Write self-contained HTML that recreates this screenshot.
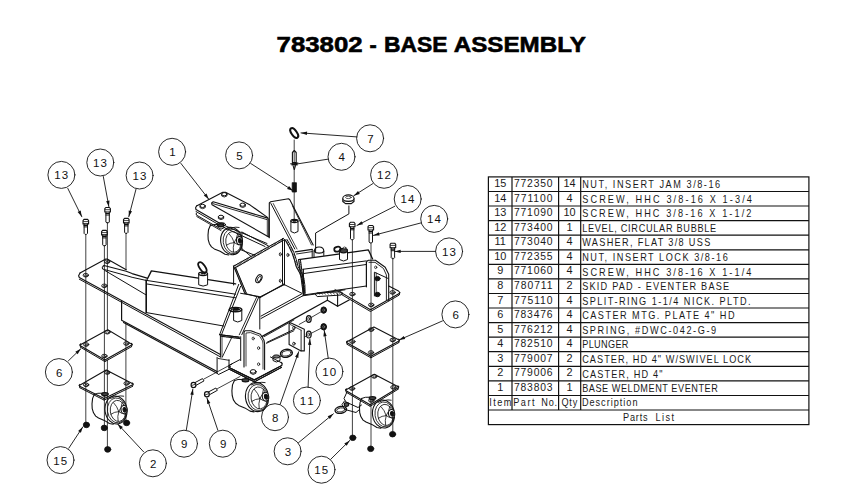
<!DOCTYPE html>
<html><head><meta charset="utf-8"><style>
html,body{margin:0;padding:0;background:#fff;width:857px;height:502px;overflow:hidden}
svg{display:block}
.t text{font-family:"Liberation Sans",sans-serif;font-size:10.9px;fill:#1a1a1a}
.title{font-family:"Liberation Sans",sans-serif;font-weight:bold;font-size:22.4px;fill:#000}
.b text{font-family:"Liberation Sans",sans-serif;font-size:11.5px;fill:#111}
</style></head><body>
<svg width="857" height="502" viewBox="0 0 857 502">
<g class="title" stroke="#000" stroke-width="0.6">
<text x="276.6" y="51.8" textLength="86" lengthAdjust="spacingAndGlyphs">783802</text>
<text x="369.4" y="51.8" textLength="7.2" lengthAdjust="spacingAndGlyphs">-</text>
<text x="384.0" y="51.8" textLength="63.5" lengthAdjust="spacingAndGlyphs">BASE</text>
<text x="453.8" y="51.8" textLength="132" lengthAdjust="spacingAndGlyphs">ASSEMBLY</text>
</g>
<g stroke="#111" stroke-width="1.2" fill="none">
<rect x="488.4" y="176.9" width="320.5" height="247.7"/>
<line x1="488.4" y1="191.5" x2="808.9" y2="191.5"/>
<line x1="488.4" y1="206.0" x2="808.9" y2="206.0"/>
<line x1="488.4" y1="220.6" x2="808.9" y2="220.6"/>
<line x1="488.4" y1="235.2" x2="808.9" y2="235.2"/>
<line x1="488.4" y1="249.8" x2="808.9" y2="249.8"/>
<line x1="488.4" y1="264.3" x2="808.9" y2="264.3"/>
<line x1="488.4" y1="278.9" x2="808.9" y2="278.9"/>
<line x1="488.4" y1="293.5" x2="808.9" y2="293.5"/>
<line x1="488.4" y1="308.0" x2="808.9" y2="308.0"/>
<line x1="488.4" y1="322.6" x2="808.9" y2="322.6"/>
<line x1="488.4" y1="337.2" x2="808.9" y2="337.2"/>
<line x1="488.4" y1="351.7" x2="808.9" y2="351.7"/>
<line x1="488.4" y1="366.3" x2="808.9" y2="366.3"/>
<line x1="488.4" y1="380.9" x2="808.9" y2="380.9"/>
<line x1="488.4" y1="395.5" x2="808.9" y2="395.5"/>
<line x1="488.4" y1="410.0" x2="808.9" y2="410.0"/>
<line x1="512.0" y1="176.9" x2="512.0" y2="410.0"/>
<line x1="558.6" y1="176.9" x2="558.6" y2="410.0"/>
<line x1="580.7" y1="176.9" x2="580.7" y2="410.0"/>
</g>
<g class="t">
<text transform="translate(500.2,186.9) scale(1.0,1)" text-anchor="middle">15</text>
<text transform="translate(514.0,186.9) scale(0.95,1)" textLength="40.6" lengthAdjust="spacing">772350</text>
<text transform="translate(569.5,186.9) scale(1.0,1)" text-anchor="middle">14</text>
<text transform="translate(582.2,188.1) scale(0.84,1)" textLength="164.3" lengthAdjust="spacing">NUT, INSERT JAM 3/8-16</text>
<text transform="translate(500.2,201.5) scale(1.0,1)" text-anchor="middle">14</text>
<text transform="translate(514.0,201.5) scale(0.95,1)" textLength="40.6" lengthAdjust="spacing">771100</text>
<text transform="translate(569.5,201.5) scale(1.0,1)" text-anchor="middle">4</text>
<text transform="translate(582.2,202.7) scale(0.84,1)" textLength="202.0" lengthAdjust="spacing">SCREW, HHC 3/8-16 X 1-3/4</text>
<text transform="translate(500.2,216.0) scale(1.0,1)" text-anchor="middle">13</text>
<text transform="translate(514.0,216.0) scale(0.95,1)" textLength="40.6" lengthAdjust="spacing">771090</text>
<text transform="translate(569.5,216.0) scale(1.0,1)" text-anchor="middle">10</text>
<text transform="translate(582.2,217.2) scale(0.84,1)" textLength="201.4" lengthAdjust="spacing">SCREW, HHC 3/8-16 X 1-1/2</text>
<text transform="translate(500.2,230.6) scale(1.0,1)" text-anchor="middle">12</text>
<text transform="translate(514.0,230.6) scale(0.95,1)" textLength="40.6" lengthAdjust="spacing">773400</text>
<text transform="translate(569.5,230.6) scale(1.0,1)" text-anchor="middle">1</text>
<text transform="translate(582.2,231.8) scale(0.84,1)" textLength="159.5" lengthAdjust="spacing">LEVEL, CIRCULAR BUBBLE</text>
<text transform="translate(500.2,245.2) scale(1.0,1)" text-anchor="middle">11</text>
<text transform="translate(514.0,245.2) scale(0.95,1)" textLength="40.6" lengthAdjust="spacing">773040</text>
<text transform="translate(569.5,245.2) scale(1.0,1)" text-anchor="middle">4</text>
<text transform="translate(582.2,246.4) scale(0.84,1)" textLength="152.5" lengthAdjust="spacing">WASHER, FLAT 3/8 USS</text>
<text transform="translate(500.2,259.8) scale(1.0,1)" text-anchor="middle">10</text>
<text transform="translate(514.0,259.8) scale(0.95,1)" textLength="40.6" lengthAdjust="spacing">772355</text>
<text transform="translate(569.5,259.8) scale(1.0,1)" text-anchor="middle">4</text>
<text transform="translate(582.2,260.9) scale(0.84,1)" textLength="173.3" lengthAdjust="spacing">NUT, INSERT LOCK 3/8-16</text>
<text transform="translate(500.2,274.3) scale(1.0,1)" text-anchor="middle">9</text>
<text transform="translate(514.0,274.3) scale(0.95,1)" textLength="40.6" lengthAdjust="spacing">771060</text>
<text transform="translate(569.5,274.3) scale(1.0,1)" text-anchor="middle">4</text>
<text transform="translate(582.2,275.5) scale(0.84,1)" textLength="201.4" lengthAdjust="spacing">SCREW, HHC 3/8-16 X 1-1/4</text>
<text transform="translate(500.2,288.9) scale(1.0,1)" text-anchor="middle">8</text>
<text transform="translate(514.0,288.9) scale(0.95,1)" textLength="40.6" lengthAdjust="spacing">780711</text>
<text transform="translate(569.5,288.9) scale(1.0,1)" text-anchor="middle">2</text>
<text transform="translate(582.2,290.1) scale(0.84,1)" textLength="174.9" lengthAdjust="spacing">SKID PAD - EVENTER BASE</text>
<text transform="translate(500.2,303.5) scale(1.0,1)" text-anchor="middle">7</text>
<text transform="translate(514.0,303.5) scale(0.95,1)" textLength="40.6" lengthAdjust="spacing">775110</text>
<text transform="translate(569.5,303.5) scale(1.0,1)" text-anchor="middle">4</text>
<text transform="translate(582.2,304.7) scale(0.84,1)" textLength="200.5" lengthAdjust="spacing">SPLIT-RING 1-1/4 NICK. PLTD.</text>
<text transform="translate(500.2,318.0) scale(1.0,1)" text-anchor="middle">6</text>
<text transform="translate(514.0,318.0) scale(0.95,1)" textLength="40.6" lengthAdjust="spacing">783476</text>
<text transform="translate(569.5,318.0) scale(1.0,1)" text-anchor="middle">4</text>
<text transform="translate(582.2,319.2) scale(0.84,1)" textLength="181.3" lengthAdjust="spacing">CASTER MTG. PLATE 4&quot; HD</text>
<text transform="translate(500.2,332.6) scale(1.0,1)" text-anchor="middle">5</text>
<text transform="translate(514.0,332.6) scale(0.95,1)" textLength="40.6" lengthAdjust="spacing">776212</text>
<text transform="translate(569.5,332.6) scale(1.0,1)" text-anchor="middle">4</text>
<text transform="translate(582.2,333.8) scale(0.84,1)" textLength="159.5" lengthAdjust="spacing">SPRING, #DWC-042-G-9</text>
<text transform="translate(500.2,347.2) scale(1.0,1)" text-anchor="middle">4</text>
<text transform="translate(514.0,347.2) scale(0.95,1)" textLength="40.6" lengthAdjust="spacing">782510</text>
<text transform="translate(569.5,347.2) scale(1.0,1)" text-anchor="middle">4</text>
<text transform="translate(582.2,348.4) scale(0.84,1)" textLength="55.1" lengthAdjust="spacing">PLUNGER</text>
<text transform="translate(500.2,361.7) scale(1.0,1)" text-anchor="middle">3</text>
<text transform="translate(514.0,361.7) scale(0.95,1)" textLength="40.6" lengthAdjust="spacing">779007</text>
<text transform="translate(569.5,361.7) scale(1.0,1)" text-anchor="middle">2</text>
<text transform="translate(582.2,362.9) scale(0.84,1)" textLength="201.1" lengthAdjust="spacing">CASTER, HD 4&quot; W/SWIVEL LOCK</text>
<text transform="translate(500.2,376.3) scale(1.0,1)" text-anchor="middle">2</text>
<text transform="translate(514.0,376.3) scale(0.95,1)" textLength="40.6" lengthAdjust="spacing">779006</text>
<text transform="translate(569.5,376.3) scale(1.0,1)" text-anchor="middle">2</text>
<text transform="translate(582.2,377.5) scale(0.84,1)" textLength="95.6" lengthAdjust="spacing">CASTER, HD 4&quot;</text>
<text transform="translate(500.2,390.9) scale(1.0,1)" text-anchor="middle">1</text>
<text transform="translate(514.0,390.9) scale(0.95,1)" textLength="40.6" lengthAdjust="spacing">783803</text>
<text transform="translate(569.5,390.9) scale(1.0,1)" text-anchor="middle">1</text>
<text transform="translate(582.2,392.1) scale(0.84,1)" textLength="161.4" lengthAdjust="spacing">BASE WELDMENT EVENTER</text>
<text transform="translate(489.3,405.5) scale(0.84,1)" textLength="26.4" lengthAdjust="spacing">Item</text>
<text transform="translate(513.3,405.5) scale(0.84,1)" textLength="25.2" lengthAdjust="spacing">Part</text>
<text transform="translate(541.2,405.5) scale(0.84,1)" textLength="19.0" lengthAdjust="spacing">No.</text>
<text transform="translate(561.4,405.5) scale(0.84,1)" textLength="18.9" lengthAdjust="spacing">Qty</text>
<text transform="translate(581.9,405.5) scale(0.84,1)" textLength="66.2" lengthAdjust="spacing">Description</text>
<text transform="translate(623.0,421.4) scale(0.84,1)" textLength="29.3" lengthAdjust="spacing">Parts</text>
<text transform="translate(655.5,421.4) scale(0.84,1)" textLength="22.0" lengthAdjust="spacing">List</text>
</g>
<g stroke-linecap="round" stroke-linejoin="round">
<circle cx="61.4" cy="174.9" r="13.5" stroke="#111" stroke-width="0.9" fill="none"/>
<line x1="67.8" y1="188.4" x2="81.8" y2="216.7" stroke="#111" stroke-width="0.9"/>
<path d="M81.8,216.7 L77.6,212.1 L80.7,210.6 Z" fill="#111"/>
<circle cx="100.3" cy="162.5" r="13.5" stroke="#111" stroke-width="0.9" fill="none"/>
<line x1="103.3" y1="176.5" x2="108.9" y2="206.8" stroke="#111" stroke-width="0.9"/>
<path d="M108.9,206.8 L106.1,201.2 L109.5,200.6 Z" fill="#111"/>
<circle cx="139.6" cy="175.5" r="13.5" stroke="#111" stroke-width="0.9" fill="none"/>
<line x1="136.0" y1="189.2" x2="128.8" y2="216.7" stroke="#111" stroke-width="0.9"/>
<path d="M128.8,216.7 L128.7,210.5 L132.0,211.3 Z" fill="#111"/>
<circle cx="172.1" cy="151.8" r="13.5" stroke="#111" stroke-width="0.9" fill="none"/>
<line x1="180.9" y1="163.4" x2="208.8" y2="199.3" stroke="#111" stroke-width="0.9"/>
<path d="M208.8,199.3 L203.8,195.6 L206.5,193.5 Z" fill="#111"/>
<circle cx="239.1" cy="155.4" r="13.5" stroke="#111" stroke-width="0.9" fill="none"/>
<line x1="250.6" y1="163.4" x2="293.1" y2="190.7" stroke="#111" stroke-width="0.9"/>
<path d="M293.1,190.7 L287.1,188.9 L289.0,186.0 Z" fill="#111"/>
<circle cx="370.1" cy="138.3" r="13.5" stroke="#111" stroke-width="0.9" fill="none"/>
<line x1="356.8" y1="136.9" x2="301.0" y2="132.9" stroke="#111" stroke-width="0.9"/>
<path d="M301.0,132.9 L307.1,131.6 L306.9,135.0 Z" fill="#111"/>
<circle cx="341.5" cy="156.8" r="13.5" stroke="#111" stroke-width="0.9" fill="none"/>
<line x1="327.9" y1="159.2" x2="291.5" y2="164.8" stroke="#111" stroke-width="0.9"/>
<path d="M291.5,164.8 L297.2,162.2 L297.7,165.6 Z" fill="#111"/>
<circle cx="384.1" cy="174.8" r="13.5" stroke="#111" stroke-width="0.9" fill="none"/>
<line x1="372.7" y1="183.7" x2="353.8" y2="195.7" stroke="#111" stroke-width="0.9"/>
<path d="M353.8,195.7 L358.0,191.0 L359.8,193.9 Z" fill="#111"/>
<circle cx="407.7" cy="199.0" r="13.5" stroke="#111" stroke-width="0.9" fill="none"/>
<line x1="394.7" y1="206.3" x2="356.9" y2="225.5" stroke="#111" stroke-width="0.9"/>
<path d="M356.9,225.5 L361.5,221.3 L363.0,224.3 Z" fill="#111"/>
<circle cx="434.2" cy="218.9" r="13.5" stroke="#111" stroke-width="0.9" fill="none"/>
<line x1="421.0" y1="222.9" x2="373.4" y2="235.4" stroke="#111" stroke-width="0.9"/>
<path d="M373.4,235.4 L378.8,232.2 L379.6,235.5 Z" fill="#111"/>
<circle cx="449.1" cy="251.4" r="13.5" stroke="#111" stroke-width="0.9" fill="none"/>
<line x1="435.6" y1="251.4" x2="394.7" y2="251.4" stroke="#111" stroke-width="0.9"/>
<path d="M394.7,251.4 L400.7,249.7 L400.7,253.1 Z" fill="#111"/>
<circle cx="455.4" cy="314.4" r="13.5" stroke="#111" stroke-width="0.9" fill="none"/>
<line x1="442.5" y1="320.9" x2="399.0" y2="340.0" stroke="#111" stroke-width="0.9"/>
<path d="M399.0,340.0 L403.8,336.0 L405.2,339.1 Z" fill="#111"/>
<circle cx="58.9" cy="372.1" r="13.5" stroke="#111" stroke-width="0.9" fill="none"/>
<line x1="68.4" y1="360.8" x2="80.8" y2="348.8" stroke="#111" stroke-width="0.9"/>
<path d="M80.8,348.8 L77.7,354.2 L75.3,351.8 Z" fill="#111"/>
<circle cx="60.5" cy="460.1" r="13.5" stroke="#111" stroke-width="0.9" fill="none"/>
<line x1="68.8" y1="448.2" x2="82.8" y2="426.9" stroke="#111" stroke-width="0.9"/>
<path d="M82.8,426.9 L80.9,432.8 L78.1,431.0 Z" fill="#111"/>
<circle cx="152.9" cy="463.3" r="13.5" stroke="#111" stroke-width="0.9" fill="none"/>
<line x1="143.6" y1="451.8" x2="117.6" y2="423.9" stroke="#111" stroke-width="0.9"/>
<path d="M117.6,423.9 L122.9,427.1 L120.4,429.4 Z" fill="#111"/>
<circle cx="184.0" cy="443.7" r="13.5" stroke="#111" stroke-width="0.9" fill="none"/>
<line x1="186.3" y1="430.1" x2="192.9" y2="388.9" stroke="#111" stroke-width="0.9"/>
<path d="M192.9,388.9 L193.6,395.1 L190.3,394.6 Z" fill="#111"/>
<circle cx="222.8" cy="443.7" r="13.5" stroke="#111" stroke-width="0.9" fill="none"/>
<line x1="217.8" y1="430.1" x2="206.9" y2="397.9" stroke="#111" stroke-width="0.9"/>
<path d="M206.9,397.9 L210.4,403.0 L207.2,404.1 Z" fill="#111"/>
<circle cx="275.0" cy="417.2" r="13.5" stroke="#111" stroke-width="0.9" fill="none"/>
<line x1="280.2" y1="404.2" x2="298.7" y2="351.7" stroke="#111" stroke-width="0.9"/>
<path d="M298.7,351.7 L298.3,357.9 L295.1,356.8 Z" fill="#111"/>
<circle cx="306.9" cy="400.5" r="13.5" stroke="#111" stroke-width="0.9" fill="none"/>
<line x1="308.1" y1="387.3" x2="309.9" y2="338.9" stroke="#111" stroke-width="0.9"/>
<path d="M309.9,338.9 L311.4,345.0 L308.0,344.8 Z" fill="#111"/>
<circle cx="329.4" cy="371.6" r="13.5" stroke="#111" stroke-width="0.9" fill="none"/>
<line x1="328.2" y1="358.1" x2="324.2" y2="330.2" stroke="#111" stroke-width="0.9"/>
<path d="M324.2,330.2 L326.7,335.9 L323.4,336.4 Z" fill="#111"/>
<circle cx="287.6" cy="451.3" r="13.5" stroke="#111" stroke-width="0.9" fill="none"/>
<line x1="298.5" y1="442.7" x2="333.4" y2="413.8" stroke="#111" stroke-width="0.9"/>
<path d="M333.4,413.8 L329.9,418.9 L327.7,416.3 Z" fill="#111"/>
<circle cx="321.5" cy="469.7" r="13.5" stroke="#111" stroke-width="0.9" fill="none"/>
<line x1="330.9" y1="459.1" x2="349.8" y2="440.4" stroke="#111" stroke-width="0.9"/>
<path d="M349.8,440.4 L346.7,445.8 L344.3,443.4 Z" fill="#111"/>
<path d="M83.0,223.9 L83.0,220.6 L84.0,219.4 L87.6,219.4 L88.6,220.6 L88.6,223.9 L83.0,223.9" stroke="#111" stroke-width="1.1" fill="none"/>
<line x1="83.5" y1="221.6" x2="88.1" y2="221.6" stroke="#111" stroke-width="0.8"/>
<line x1="84.1" y1="225.4" x2="87.5" y2="225.4" stroke="#111" stroke-width="1.2"/>
<line x1="84.1" y1="226.9" x2="87.5" y2="226.9" stroke="#111" stroke-width="1.0"/>
<path d="M84.1,223.9 L84.1,233.4 L85.1,234.4 L86.5,234.4 L87.5,233.4 L87.5,223.9" stroke="#111" stroke-width="1.0" fill="none"/>
<path d="M104.8,212.0 L104.8,208.7 L105.8,207.5 L109.4,207.5 L110.4,208.7 L110.4,212.0 L104.8,212.0" stroke="#111" stroke-width="1.1" fill="none"/>
<line x1="105.3" y1="209.7" x2="109.9" y2="209.7" stroke="#111" stroke-width="0.8"/>
<line x1="105.9" y1="213.5" x2="109.3" y2="213.5" stroke="#111" stroke-width="1.2"/>
<line x1="105.9" y1="215.0" x2="109.3" y2="215.0" stroke="#111" stroke-width="1.0"/>
<path d="M105.9,212.0 L105.9,222.0 L106.9,223.0 L108.3,223.0 L109.3,222.0 L109.3,212.0" stroke="#111" stroke-width="1.0" fill="none"/>
<path d="M101.6,234.9 L101.6,231.6 L102.6,230.4 L106.2,230.4 L107.2,231.6 L107.2,234.9 L101.6,234.9" stroke="#111" stroke-width="1.1" fill="none"/>
<line x1="102.1" y1="232.6" x2="106.7" y2="232.6" stroke="#111" stroke-width="0.8"/>
<line x1="102.7" y1="236.4" x2="106.1" y2="236.4" stroke="#111" stroke-width="1.2"/>
<line x1="102.7" y1="237.9" x2="106.1" y2="237.9" stroke="#111" stroke-width="1.0"/>
<path d="M102.7,234.9 L102.7,244.9 L103.7,245.9 L105.1,245.9 L106.1,244.9 L106.1,234.9" stroke="#111" stroke-width="1.0" fill="none"/>
<path d="M123.5,222.9 L123.5,219.6 L124.5,218.4 L128.1,218.4 L129.1,219.6 L129.1,222.9 L123.5,222.9" stroke="#111" stroke-width="1.1" fill="none"/>
<line x1="124.0" y1="220.6" x2="128.6" y2="220.6" stroke="#111" stroke-width="0.8"/>
<line x1="124.6" y1="224.4" x2="128.0" y2="224.4" stroke="#111" stroke-width="1.2"/>
<line x1="124.6" y1="225.9" x2="128.0" y2="225.9" stroke="#111" stroke-width="1.0"/>
<path d="M124.6,222.9 L124.6,232.4 L125.6,233.4 L127.0,233.4 L128.0,232.4 L128.0,222.9" stroke="#111" stroke-width="1.0" fill="none"/>
<line x1="85.8" y1="235.0" x2="85.8" y2="424.0" stroke="#111" stroke-width="0.8"/>
<line x1="107.4" y1="222.5" x2="107.4" y2="330.0" stroke="#111" stroke-width="0.8"/>
<line x1="107.4" y1="360.0" x2="107.4" y2="449.0" stroke="#111" stroke-width="0.8"/>
<line x1="104.4" y1="245.5" x2="104.4" y2="428.0" stroke="#111" stroke-width="0.8"/>
<line x1="126.0" y1="233.0" x2="126.0" y2="269.5" stroke="#111" stroke-width="0.8"/>
<line x1="125.9" y1="323.5" x2="125.9" y2="423.0" stroke="#111" stroke-width="0.8"/>
<ellipse cx="86.4" cy="424.9" rx="3.1" ry="2.8" transform="rotate(0 86.4 424.9)" stroke="#111" stroke-width="0.8" fill="#111"/>
<ellipse cx="104.3" cy="427.9" rx="3.1" ry="2.8" transform="rotate(0 104.3 427.9)" stroke="#111" stroke-width="0.8" fill="#111"/>
<ellipse cx="107.7" cy="449.4" rx="3.1" ry="2.8" transform="rotate(0 107.7 449.4)" stroke="#111" stroke-width="0.8" fill="#111"/>
<ellipse cx="126.6" cy="422.9" rx="3.1" ry="2.8" transform="rotate(0 126.6 422.9)" stroke="#111" stroke-width="0.8" fill="#111"/>
<path d="M80.0,273.0 L105.8,259.0 L107.2,259.0 L126.2,269.7" stroke="#111" stroke-width="1.1" fill="none"/>
<path d="M80.0,273.0 L78.6,275.7 L79.3,277.5 L104.6,291.2" stroke="#111" stroke-width="1.1" fill="none"/>
<path d="M79.3,279.2 L104.6,292.9" stroke="#111" stroke-width="1.0" fill="none"/>
<ellipse cx="85.8" cy="275.2" rx="2.7" ry="1.8" transform="rotate(0 85.8 275.2)" stroke="#111" stroke-width="0.9" fill="none"/>
<ellipse cx="85.8" cy="275.7" rx="1.5" ry="0.9" transform="rotate(0 85.8 275.7)" stroke="#111" stroke-width="0.7" fill="none"/>
<ellipse cx="107.2" cy="261.7" rx="2.7" ry="1.8" transform="rotate(0 107.2 261.7)" stroke="#111" stroke-width="0.9" fill="none"/>
<ellipse cx="107.2" cy="262.2" rx="1.5" ry="0.9" transform="rotate(0 107.2 262.2)" stroke="#111" stroke-width="0.7" fill="none"/>
<ellipse cx="104.4" cy="285.8" rx="2.7" ry="1.8" transform="rotate(0 104.4 285.8)" stroke="#111" stroke-width="0.9" fill="none"/>
<ellipse cx="104.4" cy="286.3" rx="1.5" ry="0.9" transform="rotate(0 104.4 286.3)" stroke="#111" stroke-width="0.7" fill="none"/>
<path d="M102.8,266.5 L104.0,265.5 L126.2,271.3 L132.1,273.6 L147.1,278.1" stroke="#111" stroke-width="1.1" fill="none"/>
<path d="M102.3,267.3 L102.5,269.0 L104.6,269.6 L126.0,275.5 L132.1,277.3 L146.5,280.5" stroke="#111" stroke-width="1.0" fill="none"/>
<line x1="104.6" y1="270.3" x2="145.9" y2="294.8" stroke="#111" stroke-width="1.0"/>
<line x1="145.9" y1="279.9" x2="145.9" y2="312.6" stroke="#111" stroke-width="1.0"/>
<path d="M104.6,291.2 L220.4,354.4" stroke="#111" stroke-width="1.1" fill="none"/>
<path d="M104.6,292.9 L220.4,356.9" stroke="#111" stroke-width="1.0" fill="none"/>
<path d="M121.6,301.0 L121.6,320.3 L217.0,371.5" stroke="#111" stroke-width="1.2" fill="none"/>
<path d="M123.5,322.6 L217.0,373.2" stroke="#111" stroke-width="1.1" fill="none"/>
<path d="M147.2,279.3 L151.4,270.9 L235.6,283.9" stroke="#111" stroke-width="1.4" fill="none"/>
<line x1="147.2" y1="280.5" x2="235.6" y2="294.2" stroke="#111" stroke-width="1.0"/>
<line x1="147.2" y1="284.0" x2="235.6" y2="297.8" stroke="#111" stroke-width="1.0"/>
<line x1="146.5" y1="280.5" x2="146.5" y2="312.6" stroke="#111" stroke-width="1.0"/>
<line x1="146.5" y1="312.6" x2="223.7" y2="326.0" stroke="#111" stroke-width="1.0"/>
<path d="M198.7,274.0 L198.7,284.8 L203.1,286.1 L207.6,284.8 L207.6,274.0" stroke="#111" stroke-width="1.0" fill="#fff"/>
<ellipse cx="203.1" cy="273.8" rx="4.4" ry="1.7" transform="rotate(0 203.1 273.8)" stroke="#111" stroke-width="1.3" fill="#fff"/>
<ellipse cx="202.0" cy="273.6" rx="0.8" ry="0.6" transform="rotate(0 202.0 273.6)" stroke="#111" stroke-width="0.8" fill="#111"/>
<ellipse cx="204.3" cy="273.6" rx="0.8" ry="0.6" transform="rotate(0 204.3 273.6)" stroke="#111" stroke-width="0.8" fill="#111"/>
<ellipse cx="202.4" cy="267.4" rx="6.0" ry="2.7" transform="rotate(55 202.4 267.4)" stroke="#111" stroke-width="1.8" fill="none"/>
<path d="M80.4,344.7 L107.8,329.8 L131.7,344.1" stroke="#111" stroke-width="1.1" fill="none"/>
<path d="M80.7,343.9 L79.8,344.9 L80.4,345.7 L104.9,360.0 L131.7,345.1 L132.3,344.3 L131.4,343.3" stroke="#111" stroke-width="1.1" fill="none"/>
<path d="M80.6,347.3 L104.9,361.6 L131.5,346.7" stroke="#111" stroke-width="1.0" fill="none"/>
<line x1="80.1" y1="345.5" x2="80.6" y2="347.3" stroke="#111" stroke-width="0.9"/>
<line x1="132.0" y1="344.9" x2="131.5" y2="346.7" stroke="#111" stroke-width="0.9"/>
<line x1="104.9" y1="360.0" x2="104.9" y2="361.6" stroke="#111" stroke-width="0.9"/>
<ellipse cx="86.1" cy="344.5" rx="2.7" ry="1.8" transform="rotate(0 86.1 344.5)" stroke="#111" stroke-width="0.9" fill="none"/>
<ellipse cx="86.1" cy="345.0" rx="1.5" ry="0.9" transform="rotate(0 86.1 345.0)" stroke="#111" stroke-width="0.7" fill="none"/>
<ellipse cx="126.4" cy="343.5" rx="2.7" ry="1.8" transform="rotate(0 126.4 343.5)" stroke="#111" stroke-width="0.9" fill="none"/>
<ellipse cx="126.4" cy="344.0" rx="1.5" ry="0.9" transform="rotate(0 126.4 344.0)" stroke="#111" stroke-width="0.7" fill="none"/>
<ellipse cx="107.4" cy="332.2" rx="2.7" ry="1.8" transform="rotate(0 107.4 332.2)" stroke="#111" stroke-width="0.9" fill="none"/>
<ellipse cx="107.4" cy="332.7" rx="1.5" ry="0.9" transform="rotate(0 107.4 332.7)" stroke="#111" stroke-width="0.7" fill="none"/>
<ellipse cx="104.4" cy="356.0" rx="2.7" ry="1.8" transform="rotate(0 104.4 356.0)" stroke="#111" stroke-width="0.9" fill="none"/>
<ellipse cx="104.4" cy="356.5" rx="1.5" ry="0.9" transform="rotate(0 104.4 356.5)" stroke="#111" stroke-width="0.7" fill="none"/>
<path d="M79.7,385.2 L106.2,369.9 L132.7,383.8" stroke="#111" stroke-width="1.1" fill="none"/>
<path d="M80.0,384.4 L79.1,385.4 L79.7,386.2 L104.1,398.5 L132.7,384.8 L133.3,384.0 L132.4,383.0" stroke="#111" stroke-width="1.1" fill="none"/>
<path d="M79.9,387.8 L104.1,400.1 L132.5,386.4" stroke="#111" stroke-width="1.0" fill="none"/>
<line x1="79.4" y1="386.0" x2="79.9" y2="387.8" stroke="#111" stroke-width="0.9"/>
<line x1="133.0" y1="384.6" x2="132.5" y2="386.4" stroke="#111" stroke-width="0.9"/>
<line x1="104.1" y1="398.5" x2="104.1" y2="400.1" stroke="#111" stroke-width="0.9"/>
<ellipse cx="86.1" cy="384.8" rx="2.7" ry="1.8" transform="rotate(0 86.1 384.8)" stroke="#111" stroke-width="0.9" fill="none"/>
<ellipse cx="86.1" cy="385.3" rx="1.5" ry="0.9" transform="rotate(0 86.1 385.3)" stroke="#111" stroke-width="0.7" fill="none"/>
<ellipse cx="126.6" cy="383.4" rx="2.7" ry="1.8" transform="rotate(0 126.6 383.4)" stroke="#111" stroke-width="0.9" fill="none"/>
<ellipse cx="126.6" cy="383.9" rx="1.5" ry="0.9" transform="rotate(0 126.6 383.9)" stroke="#111" stroke-width="0.7" fill="none"/>
<ellipse cx="107.4" cy="372.5" rx="2.7" ry="1.8" transform="rotate(0 107.4 372.5)" stroke="#111" stroke-width="0.9" fill="none"/>
<ellipse cx="107.4" cy="373.0" rx="1.5" ry="0.9" transform="rotate(0 107.4 373.0)" stroke="#111" stroke-width="0.7" fill="none"/>
<ellipse cx="104.4" cy="394.5" rx="2.7" ry="1.8" transform="rotate(0 104.4 394.5)" stroke="#111" stroke-width="0.9" fill="none"/>
<ellipse cx="104.4" cy="395.0" rx="1.5" ry="0.9" transform="rotate(0 104.4 395.0)" stroke="#111" stroke-width="0.7" fill="none"/>
<path d="M94.3,394.4 L92.6,398.4 L92.0,403.9 L92.2,408.6 L93.5,412.8 L95.7,416.1 L98.5,418.0 L104.3,420.4 L109.4,423.5 L113.2,424.3" stroke="#111" stroke-width="1.1" fill="none"/>
<path d="M94.3,394.4 L97.8,393.3 L102.2,393.2 L106.1,394.6" stroke="#111" stroke-width="1.0" fill="none"/>
<path d="M110.5,398.4 L114.9,396.8 L120.4,395.9 L123.7,396.2" stroke="#111" stroke-width="0.9" fill="none"/>
<ellipse cx="116.0" cy="410.0" rx="11.0" ry="14.1" transform="rotate(-8 116.0 410.0)" stroke="#111" stroke-width="1.1" fill="none"/>
<ellipse cx="117.0" cy="410.4" rx="9.5" ry="12.5" transform="rotate(-8 117.0 410.4)" stroke="#111" stroke-width="0.8" fill="none"/>
<ellipse cx="118.0" cy="410.9" rx="7.7" ry="10.6" transform="rotate(-8 118.0 410.9)" stroke="#111" stroke-width="0.8" fill="none"/>
<path d="M118.8,411.6 Q121.5,414.1 125.1,413.9" stroke="#111" stroke-width="0.8" fill="none"/>
<path d="M118.8,411.6 Q117.1,416.5 118.1,421.2" stroke="#111" stroke-width="0.8" fill="none"/>
<path d="M118.8,411.6 Q114.4,411.7 110.9,414.2" stroke="#111" stroke-width="0.8" fill="none"/>
<path d="M118.8,411.6 Q117.2,406.3 113.5,402.6" stroke="#111" stroke-width="0.8" fill="none"/>
<path d="M118.8,411.6 Q121.6,407.8 122.3,402.4" stroke="#111" stroke-width="0.8" fill="none"/>
<ellipse cx="124.1" cy="409.7" rx="3.1" ry="4.2" transform="rotate(-8 124.1 409.7)" stroke="#111" stroke-width="1.1" fill="#fff"/>
<ellipse cx="124.7" cy="409.8" rx="1.7" ry="2.4" transform="rotate(-8 124.7 409.8)" stroke="#111" stroke-width="1.0" fill="#111"/>
<ellipse cx="105.0" cy="394.1" rx="3.3" ry="1.5" transform="rotate(0 105.0 394.1)" stroke="#111" stroke-width="1.2" fill="#444"/>
<path d="M196.5,206.0 L222.8,192.2 L225.5,192.2 L250.2,205.1 L267.8,217.6" stroke="#111" stroke-width="1.1" fill="none"/>
<path d="M196.5,206.0 L195.6,207.8 L196.0,209.5 L221.0,224.0 L224.0,223.6" stroke="#111" stroke-width="1.1" fill="none"/>
<path d="M196.0,211.5 L221.0,226.0" stroke="#111" stroke-width="1.0" fill="none"/>
<path d="M196.3,213.2 L196.3,215.0 L221.0,229.2 L224.5,227.5" stroke="#111" stroke-width="1.0" fill="none"/>
<line x1="196.8" y1="216.6" x2="221.0" y2="230.6" stroke="#111" stroke-width="0.9"/>
<ellipse cx="224.3" cy="194.2" rx="2.6" ry="1.6" transform="rotate(0 224.3 194.2)" stroke="#111" stroke-width="1.0" fill="none"/>
<path d="M221.7,194.2 L221.7,196.0 L224.3,197.0 L226.9,196.0 L226.9,194.2" stroke="#111" stroke-width="0.9" fill="none"/>
<ellipse cx="202.6" cy="205.9" rx="2.6" ry="1.6" transform="rotate(0 202.6 205.9)" stroke="#111" stroke-width="1.0" fill="none"/>
<path d="M200.0,205.9 L200.0,207.7 L202.6,208.7 L205.2,207.7 L205.2,205.9" stroke="#111" stroke-width="0.9" fill="none"/>
<ellipse cx="242.7" cy="204.7" rx="2.6" ry="1.6" transform="rotate(0 242.7 204.7)" stroke="#111" stroke-width="1.0" fill="none"/>
<path d="M240.1,204.7 L240.1,206.5 L242.7,207.5 L245.3,206.5 L245.3,204.7" stroke="#111" stroke-width="0.9" fill="none"/>
<ellipse cx="221.0" cy="216.8" rx="2.6" ry="1.6" transform="rotate(0 221.0 216.8)" stroke="#111" stroke-width="1.0" fill="none"/>
<path d="M218.4,216.8 L218.4,218.6 L221.0,219.6 L223.6,218.6 L223.6,216.8" stroke="#111" stroke-width="0.9" fill="none"/>
<path d="M213.2,201.8 L267.0,217.9 L268.8,219.1 L268.8,237.0 L212.0,204.7 L211.6,203.0 L213.2,201.8" stroke="#111" stroke-width="1.1" fill="none"/>
<line x1="212.8" y1="203.6" x2="267.0" y2="219.6" stroke="#111" stroke-width="0.9"/>
<line x1="267.3" y1="219.5" x2="267.3" y2="236.2" stroke="#111" stroke-width="0.8"/>
<path d="M221.0,224.0 L267.0,243.5" stroke="#111" stroke-width="1.0" fill="none"/>
<path d="M221.0,226.0 L265.0,246.5" stroke="#111" stroke-width="1.0" fill="none"/>
<line x1="241.9" y1="233.5" x2="241.9" y2="250.2" stroke="#111" stroke-width="1.0"/>
<path d="M241.9,250.2 L255.0,255.3" stroke="#111" stroke-width="1.0" fill="none"/>
<path d="M210.2,225.7 L208.5,229.7 L208.0,235.1 L208.2,239.6 L209.4,243.7 L211.5,246.9 L214.3,248.9 L220.1,251.3 L225.0,254.3 L228.8,255.0" stroke="#111" stroke-width="1.1" fill="none"/>
<path d="M210.2,225.7 L213.7,224.6 L218.0,224.5 L221.8,225.9" stroke="#111" stroke-width="1.0" fill="none"/>
<path d="M226.1,229.7 L230.4,228.0 L235.8,227.2 L239.1,227.5" stroke="#111" stroke-width="0.9" fill="none"/>
<ellipse cx="231.5" cy="241.0" rx="10.8" ry="13.8" transform="rotate(-8 231.5 241.0)" stroke="#111" stroke-width="1.1" fill="none"/>
<ellipse cx="232.5" cy="241.4" rx="9.3" ry="12.3" transform="rotate(-8 232.5 241.4)" stroke="#111" stroke-width="0.8" fill="none"/>
<ellipse cx="233.4" cy="241.9" rx="7.6" ry="10.4" transform="rotate(-8 233.4 241.9)" stroke="#111" stroke-width="0.8" fill="none"/>
<path d="M234.2,242.6 Q236.9,245.0 240.5,244.9" stroke="#111" stroke-width="0.8" fill="none"/>
<path d="M234.2,242.6 Q232.6,247.3 233.5,252.0" stroke="#111" stroke-width="0.8" fill="none"/>
<path d="M234.2,242.6 Q229.9,242.7 226.5,245.1" stroke="#111" stroke-width="0.8" fill="none"/>
<path d="M234.2,242.6 Q232.7,237.4 229.0,233.7" stroke="#111" stroke-width="0.8" fill="none"/>
<path d="M234.2,242.6 Q237.0,238.8 237.7,233.6" stroke="#111" stroke-width="0.8" fill="none"/>
<ellipse cx="239.5" cy="240.7" rx="3.0" ry="4.1" transform="rotate(-8 239.5 240.7)" stroke="#111" stroke-width="1.1" fill="#fff"/>
<ellipse cx="240.0" cy="240.8" rx="1.6" ry="2.4" transform="rotate(-8 240.0 240.8)" stroke="#111" stroke-width="1.0" fill="#111"/>
<ellipse cx="220.7" cy="225.3" rx="3.2" ry="1.5" transform="rotate(0 220.7 225.3)" stroke="#111" stroke-width="1.2" fill="#444"/>
<ellipse cx="221.0" cy="224.5" rx="4.5" ry="1.8" transform="rotate(0 221.0 224.5)" stroke="#111" stroke-width="1.0" fill="none"/>
<path d="M269.3,237.8 L269.3,203.0 L270.5,201.8 L288.5,198.8 L289.8,199.8 L313.2,245.0" stroke="#111" stroke-width="1.1" fill="none"/>
<line x1="270.9" y1="203.5" x2="294.8" y2="249.0" stroke="#111" stroke-width="1.0"/>
<line x1="273.2" y1="203.5" x2="297.0" y2="249.0" stroke="#111" stroke-width="0.8"/>
<line x1="292.5" y1="206.0" x2="311.5" y2="245.0" stroke="#111" stroke-width="0.8"/>
<path d="M290.9,221.0 L290.9,231.5 L294.4,233.0 L298.0,231.5 L298.0,221.0" stroke="#111" stroke-width="1.0" fill="#fff"/>
<ellipse cx="294.4" cy="221.0" rx="3.6" ry="1.6" transform="rotate(0 294.4 221.0)" stroke="#111" stroke-width="1.1" fill="none"/>
<ellipse cx="294.4" cy="220.4" rx="2.0" ry="0.9" transform="rotate(0 294.4 220.4)" stroke="#111" stroke-width="1.0" fill="#111"/>
<line x1="294.2" y1="140.0" x2="294.2" y2="220.0" stroke="#111" stroke-width="0.8"/>
<path d="M292.2,183.0 L292.2,192.0 L296.4,192.0 L296.4,183.0 Z" stroke="#111" stroke-width="0.8" fill="#111"/>
<path d="M292.4,152.5 L294.3,150.5 L296.2,152.5 L296.2,162.5 L292.4,162.5 L292.4,152.5" stroke="#111" stroke-width="1.1" fill="none"/>
<path d="M292.4,163.5 L294.3,169.8 L296.2,163.5" stroke="#111" stroke-width="1.0" fill="none"/>
<line x1="290.5" y1="163.8" x2="298.0" y2="163.0" stroke="#111" stroke-width="0.9"/>
<ellipse cx="294.2" cy="133.0" rx="5.6" ry="2.6" transform="rotate(55 294.2 133.0)" stroke="#111" stroke-width="2.1" fill="none"/>
<line x1="233.6" y1="266.1" x2="283.7" y2="238.3" stroke="#111" stroke-width="1.0"/>
<line x1="235.0" y1="267.9" x2="283.7" y2="240.1" stroke="#111" stroke-width="1.0"/>
<line x1="235.0" y1="265.3" x2="237.2" y2="266.6" stroke="#111" stroke-width="0.7"/>
<line x1="236.5" y1="264.5" x2="238.6" y2="265.8" stroke="#111" stroke-width="0.7"/>
<line x1="237.9" y1="263.7" x2="240.0" y2="265.0" stroke="#111" stroke-width="0.7"/>
<line x1="239.3" y1="262.9" x2="241.4" y2="264.2" stroke="#111" stroke-width="0.7"/>
<line x1="240.8" y1="262.1" x2="242.8" y2="263.5" stroke="#111" stroke-width="0.7"/>
<line x1="242.2" y1="261.3" x2="244.2" y2="262.7" stroke="#111" stroke-width="0.7"/>
<line x1="243.6" y1="260.5" x2="245.6" y2="261.9" stroke="#111" stroke-width="0.7"/>
<line x1="245.1" y1="259.7" x2="247.0" y2="261.1" stroke="#111" stroke-width="0.7"/>
<line x1="246.5" y1="259.0" x2="248.4" y2="260.3" stroke="#111" stroke-width="0.7"/>
<line x1="247.9" y1="258.2" x2="249.7" y2="259.5" stroke="#111" stroke-width="0.7"/>
<line x1="249.3" y1="257.4" x2="251.1" y2="258.7" stroke="#111" stroke-width="0.7"/>
<line x1="250.8" y1="256.6" x2="252.5" y2="257.9" stroke="#111" stroke-width="0.7"/>
<line x1="252.2" y1="255.8" x2="253.9" y2="257.1" stroke="#111" stroke-width="0.7"/>
<line x1="253.6" y1="255.0" x2="255.3" y2="256.3" stroke="#111" stroke-width="0.7"/>
<line x1="255.1" y1="254.2" x2="256.7" y2="255.5" stroke="#111" stroke-width="0.7"/>
<line x1="256.5" y1="253.4" x2="258.1" y2="254.7" stroke="#111" stroke-width="0.7"/>
<line x1="257.9" y1="252.6" x2="259.5" y2="253.9" stroke="#111" stroke-width="0.7"/>
<line x1="259.4" y1="251.8" x2="260.9" y2="253.1" stroke="#111" stroke-width="0.7"/>
<line x1="260.8" y1="251.0" x2="262.3" y2="252.3" stroke="#111" stroke-width="0.7"/>
<line x1="262.2" y1="250.2" x2="263.7" y2="251.5" stroke="#111" stroke-width="0.7"/>
<line x1="263.7" y1="249.4" x2="265.1" y2="250.7" stroke="#111" stroke-width="0.7"/>
<line x1="265.1" y1="248.6" x2="266.4" y2="249.9" stroke="#111" stroke-width="0.7"/>
<line x1="266.5" y1="247.8" x2="267.8" y2="249.2" stroke="#111" stroke-width="0.7"/>
<line x1="268.0" y1="247.0" x2="269.2" y2="248.4" stroke="#111" stroke-width="0.7"/>
<line x1="269.4" y1="246.2" x2="270.6" y2="247.6" stroke="#111" stroke-width="0.7"/>
<line x1="270.8" y1="245.4" x2="272.0" y2="246.8" stroke="#111" stroke-width="0.7"/>
<line x1="272.2" y1="244.7" x2="273.4" y2="246.0" stroke="#111" stroke-width="0.7"/>
<line x1="273.7" y1="243.9" x2="274.8" y2="245.2" stroke="#111" stroke-width="0.7"/>
<line x1="275.1" y1="243.1" x2="276.2" y2="244.4" stroke="#111" stroke-width="0.7"/>
<line x1="276.5" y1="242.3" x2="277.6" y2="243.6" stroke="#111" stroke-width="0.7"/>
<line x1="278.0" y1="241.5" x2="279.0" y2="242.8" stroke="#111" stroke-width="0.7"/>
<line x1="279.4" y1="240.7" x2="280.4" y2="242.0" stroke="#111" stroke-width="0.7"/>
<line x1="280.8" y1="239.9" x2="281.8" y2="241.2" stroke="#111" stroke-width="0.7"/>
<line x1="282.3" y1="239.1" x2="283.1" y2="240.4" stroke="#111" stroke-width="0.7"/>
<line x1="233.6" y1="266.1" x2="244.7" y2="293.3" stroke="#111" stroke-width="1.0"/>
<line x1="235.4" y1="267.0" x2="246.3" y2="293.0" stroke="#111" stroke-width="1.0"/>
<line x1="234.2" y1="267.6" x2="236.4" y2="269.3" stroke="#111" stroke-width="0.7"/>
<line x1="234.8" y1="269.1" x2="237.0" y2="270.8" stroke="#111" stroke-width="0.7"/>
<line x1="235.4" y1="270.6" x2="237.6" y2="272.2" stroke="#111" stroke-width="0.7"/>
<line x1="236.1" y1="272.1" x2="238.2" y2="273.6" stroke="#111" stroke-width="0.7"/>
<line x1="236.7" y1="273.7" x2="238.8" y2="275.1" stroke="#111" stroke-width="0.7"/>
<line x1="237.3" y1="275.2" x2="239.4" y2="276.5" stroke="#111" stroke-width="0.7"/>
<line x1="237.9" y1="276.7" x2="240.0" y2="278.0" stroke="#111" stroke-width="0.7"/>
<line x1="238.5" y1="278.2" x2="240.6" y2="279.4" stroke="#111" stroke-width="0.7"/>
<line x1="239.1" y1="279.7" x2="241.2" y2="280.9" stroke="#111" stroke-width="0.7"/>
<line x1="239.8" y1="281.2" x2="241.8" y2="282.3" stroke="#111" stroke-width="0.7"/>
<line x1="240.4" y1="282.7" x2="242.4" y2="283.8" stroke="#111" stroke-width="0.7"/>
<line x1="241.0" y1="284.2" x2="243.0" y2="285.2" stroke="#111" stroke-width="0.7"/>
<line x1="241.6" y1="285.7" x2="243.6" y2="286.6" stroke="#111" stroke-width="0.7"/>
<line x1="242.2" y1="287.3" x2="244.2" y2="288.1" stroke="#111" stroke-width="0.7"/>
<line x1="242.8" y1="288.8" x2="244.8" y2="289.5" stroke="#111" stroke-width="0.7"/>
<line x1="243.5" y1="290.3" x2="245.5" y2="291.0" stroke="#111" stroke-width="0.7"/>
<line x1="244.1" y1="291.8" x2="246.1" y2="292.4" stroke="#111" stroke-width="0.7"/>
<line x1="282.5" y1="238.5" x2="282.5" y2="284.3" stroke="#111" stroke-width="1.0"/>
<line x1="284.5" y1="239.5" x2="284.5" y2="285.0" stroke="#111" stroke-width="1.0"/>
<path d="M283.7,284.3 L260.0,297.5" stroke="#111" stroke-width="1.1" fill="none"/>
<path d="M244.7,293.3 L260.0,297.5" stroke="#111" stroke-width="1.0" fill="none"/>
<line x1="233.6" y1="266.1" x2="233.6" y2="285.0" stroke="#111" stroke-width="1.0"/>
<ellipse cx="258.9" cy="278.7" rx="2.6" ry="4.3" transform="rotate(30 258.9 278.7)" stroke="#111" stroke-width="1.1" fill="none"/>
<ellipse cx="259.3" cy="279.0" rx="1.5" ry="2.8" transform="rotate(30 259.3 279.0)" stroke="#111" stroke-width="0.8" fill="none"/>
<ellipse cx="280.3" cy="254.3" rx="1.0" ry="1.6" transform="rotate(0 280.3 254.3)" stroke="#111" stroke-width="0.9" fill="none"/>
<ellipse cx="280.3" cy="280.8" rx="1.0" ry="1.6" transform="rotate(0 280.3 280.8)" stroke="#111" stroke-width="0.9" fill="none"/>
<ellipse cx="287.9" cy="255.0" rx="1.0" ry="1.6" transform="rotate(0 287.9 255.0)" stroke="#111" stroke-width="0.9" fill="none"/>
<path d="M285.1,239.7 L289.0,246.5 L292.1,252.9 L294.5,260.0 L296.3,266.8 L299.5,272.5 L301.9,278.0 L303.0,285.0 L303.3,293.3" stroke="#111" stroke-width="1.1" fill="none"/>
<path d="M286.9,239.4 L290.8,246.2 L293.9,252.6 L296.3,259.7 L298.1,266.5 L301.3,272.2 L303.7,277.7 L304.8,284.7 L305.1,293.0" stroke="#111" stroke-width="1.0" fill="none"/>
<line x1="286.1" y1="241.4" x2="287.9" y2="240.5" stroke="#111" stroke-width="0.6"/>
<line x1="287.1" y1="243.1" x2="288.9" y2="242.2" stroke="#111" stroke-width="0.6"/>
<line x1="288.0" y1="244.8" x2="289.8" y2="243.9" stroke="#111" stroke-width="0.6"/>
<line x1="289.8" y1="248.1" x2="291.6" y2="247.2" stroke="#111" stroke-width="0.6"/>
<line x1="290.6" y1="249.7" x2="292.4" y2="248.8" stroke="#111" stroke-width="0.6"/>
<line x1="291.3" y1="251.3" x2="293.1" y2="250.4" stroke="#111" stroke-width="0.6"/>
<line x1="292.7" y1="254.7" x2="294.5" y2="253.8" stroke="#111" stroke-width="0.6"/>
<line x1="293.3" y1="256.4" x2="295.1" y2="255.5" stroke="#111" stroke-width="0.6"/>
<line x1="293.9" y1="258.2" x2="295.7" y2="257.3" stroke="#111" stroke-width="0.6"/>
<line x1="294.9" y1="261.7" x2="296.8" y2="260.8" stroke="#111" stroke-width="0.6"/>
<line x1="295.4" y1="263.4" x2="297.2" y2="262.5" stroke="#111" stroke-width="0.6"/>
<line x1="295.9" y1="265.1" x2="297.7" y2="264.2" stroke="#111" stroke-width="0.6"/>
<line x1="297.1" y1="268.2" x2="298.9" y2="267.3" stroke="#111" stroke-width="0.6"/>
<line x1="297.9" y1="269.6" x2="299.7" y2="268.8" stroke="#111" stroke-width="0.6"/>
<line x1="298.7" y1="271.1" x2="300.5" y2="270.2" stroke="#111" stroke-width="0.6"/>
<line x1="300.1" y1="273.9" x2="301.9" y2="273.0" stroke="#111" stroke-width="0.6"/>
<line x1="300.7" y1="275.2" x2="302.5" y2="274.4" stroke="#111" stroke-width="0.6"/>
<line x1="301.3" y1="276.6" x2="303.1" y2="275.7" stroke="#111" stroke-width="0.6"/>
<line x1="302.2" y1="279.8" x2="304.0" y2="278.9" stroke="#111" stroke-width="0.6"/>
<line x1="302.4" y1="281.5" x2="304.2" y2="280.6" stroke="#111" stroke-width="0.6"/>
<line x1="302.7" y1="283.2" x2="304.5" y2="282.4" stroke="#111" stroke-width="0.6"/>
<line x1="303.1" y1="287.1" x2="304.9" y2="286.2" stroke="#111" stroke-width="0.6"/>
<line x1="303.1" y1="289.1" x2="304.9" y2="288.2" stroke="#111" stroke-width="0.6"/>
<line x1="303.2" y1="291.2" x2="305.0" y2="290.3" stroke="#111" stroke-width="0.6"/>
<path d="M283.7,284.3 L301.9,293.3" stroke="#111" stroke-width="1.0" fill="none"/>
<path d="M241.9,232.0 L268.4,245.9" stroke="#111" stroke-width="1.0" fill="none"/>
<path d="M241.9,248.7 L251.0,256.4" stroke="#111" stroke-width="1.0" fill="none"/>
<path d="M298.6,259.7 L368.4,249.9 L372.6,258.9" stroke="#111" stroke-width="1.3" fill="none"/>
<line x1="302.8" y1="269.3" x2="366.2" y2="260.9" stroke="#111" stroke-width="1.0"/>
<line x1="304.0" y1="273.5" x2="366.2" y2="264.5" stroke="#111" stroke-width="1.0"/>
<line x1="303.4" y1="269.3" x2="303.4" y2="295.0" stroke="#111" stroke-width="1.1"/>
<line x1="303.4" y1="295.0" x2="366.4" y2="286.0" stroke="#111" stroke-width="1.1"/>
<line x1="366.4" y1="262.0" x2="366.4" y2="286.8" stroke="#111" stroke-width="1.0"/>
<line x1="298.6" y1="259.7" x2="303.4" y2="295.0" stroke="#111" stroke-width="1.0"/>
<line x1="300.4" y1="259.5" x2="305.0" y2="294.8" stroke="#111" stroke-width="1.0"/>
<line x1="298.9" y1="261.7" x2="300.8" y2="262.6" stroke="#111" stroke-width="0.7"/>
<line x1="299.1" y1="263.6" x2="301.1" y2="264.6" stroke="#111" stroke-width="0.7"/>
<line x1="299.4" y1="265.6" x2="301.3" y2="266.6" stroke="#111" stroke-width="0.7"/>
<line x1="299.7" y1="267.5" x2="301.6" y2="268.5" stroke="#111" stroke-width="0.7"/>
<line x1="299.9" y1="269.5" x2="301.8" y2="270.5" stroke="#111" stroke-width="0.7"/>
<line x1="300.2" y1="271.5" x2="302.1" y2="272.4" stroke="#111" stroke-width="0.7"/>
<line x1="300.5" y1="273.4" x2="302.3" y2="274.4" stroke="#111" stroke-width="0.7"/>
<line x1="300.7" y1="275.4" x2="302.6" y2="276.4" stroke="#111" stroke-width="0.7"/>
<line x1="301.0" y1="277.4" x2="302.9" y2="278.3" stroke="#111" stroke-width="0.7"/>
<line x1="301.3" y1="279.3" x2="303.1" y2="280.3" stroke="#111" stroke-width="0.7"/>
<line x1="301.5" y1="281.3" x2="303.4" y2="282.2" stroke="#111" stroke-width="0.7"/>
<line x1="301.8" y1="283.2" x2="303.6" y2="284.2" stroke="#111" stroke-width="0.7"/>
<line x1="302.1" y1="285.2" x2="303.9" y2="286.2" stroke="#111" stroke-width="0.7"/>
<line x1="302.3" y1="287.2" x2="304.1" y2="288.1" stroke="#111" stroke-width="0.7"/>
<line x1="302.6" y1="289.1" x2="304.4" y2="290.1" stroke="#111" stroke-width="0.7"/>
<line x1="302.9" y1="291.1" x2="304.6" y2="292.1" stroke="#111" stroke-width="0.7"/>
<line x1="303.1" y1="293.0" x2="304.9" y2="294.0" stroke="#111" stroke-width="0.7"/>
<path d="M339.5,251.5 L339.5,259.5 L343.5,261.0 L347.5,259.5 L347.5,251.5" stroke="#111" stroke-width="1.0" fill="#fff"/>
<ellipse cx="343.5" cy="250.6" rx="4.0" ry="2.2" transform="rotate(0 343.5 250.6)" stroke="#111" stroke-width="1.2" fill="#444"/>
<ellipse cx="337.4" cy="249.2" rx="3.2" ry="2.4" transform="rotate(-10 337.4 249.2)" stroke="#111" stroke-width="1.7" fill="none"/>
<ellipse cx="344.6" cy="247.9" rx="1.3" ry="0.9" transform="rotate(0 344.6 247.9)" stroke="#111" stroke-width="0.7" fill="#fff"/>
<path d="M314.4,251.2 C314.4,245.5 323.8,245.5 323.8,251.2 C322.5,253.8 315.7,253.8 314.4,251.2 Z" stroke="#111" stroke-width="1.1" fill="#fff"/>
<line x1="323.8" y1="251.2" x2="323.8" y2="255.5" stroke="#111" stroke-width="1.0"/>
<path d="M295.2,251.9 L312.2,249.4" stroke="#111" stroke-width="1.1" fill="none"/>
<path d="M296.5,254.0 L312.2,251.6" stroke="#111" stroke-width="0.9" fill="none"/>
<line x1="312.2" y1="249.4" x2="312.2" y2="257.3" stroke="#111" stroke-width="1.0"/>
<line x1="314.0" y1="250.5" x2="314.0" y2="257.3" stroke="#111" stroke-width="1.0"/>
<path d="M315.6,252.0 L315.6,233.0 L348.9,213.9 L348.9,205.9" stroke="#111" stroke-width="1.0" fill="none"/>
<path d="M342.8,198.5 L342.8,201.5 L345.5,203.6 L351.3,203.6 L354.0,201.5 L354.0,198.5" stroke="#111" stroke-width="1.1" fill="none"/>
<ellipse cx="348.4" cy="198.2" rx="5.6" ry="3.3" transform="rotate(0 348.4 198.2)" stroke="#111" stroke-width="1.1" fill="#fff"/>
<line x1="343.2" y1="201.0" x2="353.6" y2="201.0" stroke="#111" stroke-width="0.7"/>
<ellipse cx="348.4" cy="197.4" rx="2.8" ry="1.2" transform="rotate(0 348.4 197.4)" stroke="#111" stroke-width="0.7" fill="none"/>
<path d="M366.4,262.5 L367.1,261.0 L368.5,260.3 L375.4,260.3 L385.2,267.3 L388.7,274.3 L388.7,300.7" stroke="#111" stroke-width="1.1" fill="none"/>
<path d="M369.0,262.3 L375.0,262.3 L383.5,268.5 L386.4,275.0 L386.4,300.0" stroke="#111" stroke-width="0.9" fill="none"/>
<line x1="366.4" y1="262.5" x2="366.4" y2="286.8" stroke="#111" stroke-width="1.0"/>
<ellipse cx="375.7" cy="267.3" rx="1.1" ry="1.3" transform="rotate(0 375.7 267.3)" stroke="#111" stroke-width="0.8" fill="none"/>
<path d="M374.4,295.9 L374.4,272.2 L388.0,278.4" stroke="#111" stroke-width="1.0" fill="none"/>
<line x1="376.2" y1="273.0" x2="376.2" y2="296.5" stroke="#111" stroke-width="0.8"/>
<ellipse cx="377.5" cy="278.6" rx="2.6" ry="2.2" transform="rotate(0 377.5 278.6)" stroke="#111" stroke-width="1.0" fill="#111"/>
<ellipse cx="377.5" cy="294.5" rx="2.6" ry="2.2" transform="rotate(0 377.5 294.5)" stroke="#111" stroke-width="1.0" fill="#111"/>
<path d="M342.0,293.1 L370.5,309.8 L398.8,293.8 L399.8,292.5 L398.5,291.0 L388.7,286.0" stroke="#111" stroke-width="1.1" fill="none"/>
<path d="M342.0,293.1 L342.0,294.8 L370.5,311.5 L399.3,295.0 L399.8,292.5" stroke="#111" stroke-width="1.0" fill="none"/>
<ellipse cx="352.4" cy="294.1" rx="2.7" ry="1.8" transform="rotate(0 352.4 294.1)" stroke="#111" stroke-width="0.9" fill="none"/>
<ellipse cx="352.4" cy="294.6" rx="1.5" ry="0.9" transform="rotate(0 352.4 294.6)" stroke="#111" stroke-width="0.7" fill="none"/>
<ellipse cx="371.2" cy="304.9" rx="2.7" ry="1.8" transform="rotate(0 371.2 304.9)" stroke="#111" stroke-width="0.9" fill="none"/>
<ellipse cx="371.2" cy="305.4" rx="1.5" ry="0.9" transform="rotate(0 371.2 305.4)" stroke="#111" stroke-width="0.7" fill="none"/>
<ellipse cx="392.6" cy="292.4" rx="2.7" ry="1.8" transform="rotate(0 392.6 292.4)" stroke="#111" stroke-width="0.9" fill="none"/>
<ellipse cx="392.6" cy="292.9" rx="1.5" ry="0.9" transform="rotate(0 392.6 292.9)" stroke="#111" stroke-width="0.7" fill="none"/>
<line x1="335.0" y1="289.6" x2="342.0" y2="293.1" stroke="#111" stroke-width="1.0"/>
<path d="M315.5,294.5 L316.8,293.0 L341.2,291.8 L342.6,293.3 L341.2,295.0 L317.2,296.6 L315.5,294.5" stroke="#111" stroke-width="1.0" fill="none"/>
<line x1="318.0" y1="293.0" x2="319.6" y2="294.2" stroke="#111" stroke-width="0.6"/>
<line x1="321.0" y1="293.0" x2="322.6" y2="294.2" stroke="#111" stroke-width="0.6"/>
<line x1="324.0" y1="293.0" x2="325.6" y2="294.2" stroke="#111" stroke-width="0.6"/>
<line x1="327.0" y1="293.0" x2="328.6" y2="294.2" stroke="#111" stroke-width="0.6"/>
<line x1="330.0" y1="293.0" x2="331.6" y2="294.2" stroke="#111" stroke-width="0.6"/>
<line x1="333.0" y1="293.0" x2="334.6" y2="294.2" stroke="#111" stroke-width="0.6"/>
<line x1="336.0" y1="293.0" x2="337.6" y2="294.2" stroke="#111" stroke-width="0.6"/>
<line x1="339.0" y1="293.0" x2="340.6" y2="294.2" stroke="#111" stroke-width="0.6"/>
<path d="M349.4,226.8 L349.4,223.5 L350.4,222.3 L354.0,222.3 L355.0,223.5 L355.0,226.8 L349.4,226.8" stroke="#111" stroke-width="1.1" fill="none"/>
<line x1="349.9" y1="224.5" x2="354.5" y2="224.5" stroke="#111" stroke-width="0.8"/>
<line x1="350.5" y1="228.3" x2="353.9" y2="228.3" stroke="#111" stroke-width="1.2"/>
<line x1="350.5" y1="229.8" x2="353.9" y2="229.8" stroke="#111" stroke-width="1.0"/>
<path d="M350.5,226.8 L350.5,238.8 L351.5,239.8 L352.9,239.8 L353.9,238.8 L353.9,226.8" stroke="#111" stroke-width="1.0" fill="none"/>
<path d="M368.0,230.0 L368.0,226.7 L369.0,225.5 L372.6,225.5 L373.6,226.7 L373.6,230.0 L368.0,230.0" stroke="#111" stroke-width="1.1" fill="none"/>
<line x1="368.5" y1="227.7" x2="373.1" y2="227.7" stroke="#111" stroke-width="0.8"/>
<line x1="369.1" y1="231.5" x2="372.5" y2="231.5" stroke="#111" stroke-width="1.2"/>
<line x1="369.1" y1="233.0" x2="372.5" y2="233.0" stroke="#111" stroke-width="1.0"/>
<path d="M369.1,230.0 L369.1,242.0 L370.1,243.0 L371.5,243.0 L372.5,242.0 L372.5,230.0" stroke="#111" stroke-width="1.0" fill="none"/>
<path d="M390.1,247.7 L390.1,244.4 L391.1,243.2 L394.7,243.2 L395.7,244.4 L395.7,247.7 L390.1,247.7" stroke="#111" stroke-width="1.1" fill="none"/>
<line x1="390.6" y1="245.4" x2="395.2" y2="245.4" stroke="#111" stroke-width="0.8"/>
<line x1="391.2" y1="249.2" x2="394.6" y2="249.2" stroke="#111" stroke-width="1.2"/>
<line x1="391.2" y1="250.7" x2="394.6" y2="250.7" stroke="#111" stroke-width="1.0"/>
<path d="M391.2,247.7 L391.2,257.7 L392.2,258.7 L393.6,258.7 L394.6,257.7 L394.6,247.7" stroke="#111" stroke-width="1.0" fill="none"/>
<line x1="352.4" y1="240.0" x2="352.4" y2="438.0" stroke="#111" stroke-width="0.8"/>
<line x1="371.0" y1="243.0" x2="371.0" y2="449.0" stroke="#111" stroke-width="0.8"/>
<line x1="392.8" y1="258.0" x2="392.8" y2="434.0" stroke="#111" stroke-width="0.8"/>
<ellipse cx="352.8" cy="437.8" rx="3.1" ry="2.8" transform="rotate(0 352.8 437.8)" stroke="#111" stroke-width="0.8" fill="#111"/>
<ellipse cx="370.7" cy="448.8" rx="3.1" ry="2.8" transform="rotate(0 370.7 448.8)" stroke="#111" stroke-width="0.8" fill="#111"/>
<ellipse cx="392.6" cy="434.2" rx="3.1" ry="2.8" transform="rotate(0 392.6 434.2)" stroke="#111" stroke-width="0.8" fill="#111"/>
<line x1="238.7" y1="284.4" x2="219.6" y2="334.7" stroke="#111" stroke-width="1.0"/>
<line x1="240.6" y1="286.3" x2="221.5" y2="334.7" stroke="#111" stroke-width="1.0"/>
<path d="M240.6,293.3 L259.0,296.5" stroke="#111" stroke-width="1.0" fill="none"/>
<line x1="259.0" y1="296.5" x2="241.8" y2="334.7" stroke="#111" stroke-width="1.0"/>
<line x1="256.5" y1="297.5" x2="239.3" y2="334.7" stroke="#111" stroke-width="0.9"/>
<line x1="259.8" y1="297.0" x2="259.8" y2="329.0" stroke="#111" stroke-width="1.0"/>
<path d="M219.6,334.7 L239.3,337.2" stroke="#111" stroke-width="1.0" fill="none"/>
<line x1="219.6" y1="334.7" x2="239.3" y2="337.2" stroke="#111" stroke-width="1.0"/>
<line x1="220.4" y1="336.2" x2="240.0" y2="338.6" stroke="#111" stroke-width="1.0"/>
<line x1="221.2" y1="334.9" x2="223.0" y2="336.5" stroke="#111" stroke-width="0.6"/>
<line x1="222.9" y1="335.1" x2="224.6" y2="336.7" stroke="#111" stroke-width="0.6"/>
<line x1="224.5" y1="335.3" x2="226.3" y2="336.9" stroke="#111" stroke-width="0.6"/>
<line x1="226.2" y1="335.5" x2="227.9" y2="337.1" stroke="#111" stroke-width="0.6"/>
<line x1="227.8" y1="335.7" x2="229.5" y2="337.3" stroke="#111" stroke-width="0.6"/>
<line x1="229.4" y1="335.9" x2="231.2" y2="337.5" stroke="#111" stroke-width="0.6"/>
<line x1="231.1" y1="336.2" x2="232.8" y2="337.7" stroke="#111" stroke-width="0.6"/>
<line x1="232.7" y1="336.4" x2="234.4" y2="337.9" stroke="#111" stroke-width="0.6"/>
<line x1="234.4" y1="336.6" x2="236.1" y2="338.1" stroke="#111" stroke-width="0.6"/>
<line x1="236.0" y1="336.8" x2="237.7" y2="338.3" stroke="#111" stroke-width="0.6"/>
<line x1="237.7" y1="337.0" x2="239.3" y2="338.5" stroke="#111" stroke-width="0.6"/>
<line x1="220.4" y1="335.5" x2="220.4" y2="357.0" stroke="#111" stroke-width="1.0"/>
<line x1="240.7" y1="336.7" x2="240.7" y2="360.6" stroke="#111" stroke-width="1.0"/>
<line x1="222.0" y1="337.0" x2="222.0" y2="357.5" stroke="#111" stroke-width="0.8"/>
<path d="M233.6,310.0 L233.6,320.5 L237.7,322.0 L241.8,320.5 L241.8,310.0" stroke="#111" stroke-width="1.0" fill="#fff"/>
<ellipse cx="235.5" cy="309.6" rx="6.2" ry="2.1" transform="rotate(0 235.5 309.6)" stroke="#111" stroke-width="1.6" fill="none"/>
<ellipse cx="236.0" cy="309.3" rx="3.5" ry="1.0" transform="rotate(0 236.0 309.3)" stroke="#111" stroke-width="1.0" fill="#111"/>
<path d="M259.8,297.0 L283.7,285.0" stroke="#111" stroke-width="1.0" fill="none"/>
<line x1="261.0" y1="316.1" x2="301.6" y2="294.0" stroke="#111" stroke-width="1.0"/>
<line x1="261.0" y1="318.5" x2="302.8" y2="295.8" stroke="#111" stroke-width="1.0"/>
<path d="M262.2,336.4 L327.4,300.3 L337.6,306.3 L349.1,300.0" stroke="#111" stroke-width="1.3" fill="none"/>
<line x1="327.4" y1="296.8" x2="327.4" y2="300.3" stroke="#111" stroke-width="1.0"/>
<line x1="337.6" y1="293.7" x2="337.6" y2="306.3" stroke="#111" stroke-width="1.1"/>
<line x1="267.0" y1="342.3" x2="294.4" y2="329.2" stroke="#111" stroke-width="1.0"/>
<line x1="302.8" y1="295.8" x2="345.0" y2="289.8" stroke="#111" stroke-width="1.0"/>
<line x1="264.0" y1="336.7" x2="293.9" y2="320.0" stroke="#111" stroke-width="0.9"/>
<line x1="266.4" y1="343.3" x2="293.9" y2="330.8" stroke="#111" stroke-width="0.9"/>
<path d="M244.0,367.0 L244.0,332.5 L244.9,330.8 L250.8,330.8 L260.4,334.3 L264.0,340.3 L264.6,343.9 L264.6,369.6" stroke="#111" stroke-width="1.1" fill="none"/>
<path d="M246.0,366.0 L246.0,333.0 L250.5,332.6 L259.4,335.8 L262.6,341.0 L263.0,344.0 L263.0,369.0" stroke="#111" stroke-width="0.8" fill="none"/>
<ellipse cx="253.2" cy="338.5" rx="1.1" ry="1.4" transform="rotate(0 253.2 338.5)" stroke="#111" stroke-width="0.8" fill="none"/>
<ellipse cx="258.6" cy="348.1" rx="1.1" ry="1.4" transform="rotate(0 258.6 348.1)" stroke="#111" stroke-width="0.8" fill="none"/>
<ellipse cx="258.6" cy="364.2" rx="1.1" ry="1.4" transform="rotate(0 258.6 364.2)" stroke="#111" stroke-width="0.8" fill="none"/>
<path d="M230.5,366.6 L229.2,365.6 L232.0,364.0" stroke="#111" stroke-width="1.0" fill="none"/>
<path d="M229.2,365.6 L229.0,367.5 L254.3,379.9 L281.8,365.5 L282.2,363.5 L281.2,362.5" stroke="#111" stroke-width="1.2" fill="none"/>
<path d="M229.5,369.5 L254.3,382.0 L281.5,367.5" stroke="#111" stroke-width="1.0" fill="none"/>
<line x1="229.5" y1="367.6" x2="254.3" y2="380.0" stroke="#111" stroke-width="1.0"/>
<line x1="229.5" y1="369.3" x2="254.3" y2="381.8" stroke="#111" stroke-width="1.0"/>
<line x1="231.1" y1="368.4" x2="232.0" y2="370.6" stroke="#111" stroke-width="0.6"/>
<line x1="232.6" y1="369.2" x2="233.5" y2="371.3" stroke="#111" stroke-width="0.6"/>
<line x1="234.2" y1="369.9" x2="235.1" y2="372.1" stroke="#111" stroke-width="0.6"/>
<line x1="235.7" y1="370.7" x2="236.6" y2="372.9" stroke="#111" stroke-width="0.6"/>
<line x1="237.2" y1="371.5" x2="238.2" y2="373.7" stroke="#111" stroke-width="0.6"/>
<line x1="238.8" y1="372.2" x2="239.7" y2="374.5" stroke="#111" stroke-width="0.6"/>
<line x1="240.3" y1="373.0" x2="241.3" y2="375.2" stroke="#111" stroke-width="0.6"/>
<line x1="241.9" y1="373.8" x2="242.8" y2="376.0" stroke="#111" stroke-width="0.6"/>
<line x1="243.5" y1="374.6" x2="244.4" y2="376.8" stroke="#111" stroke-width="0.6"/>
<line x1="245.0" y1="375.4" x2="245.9" y2="377.6" stroke="#111" stroke-width="0.6"/>
<line x1="246.6" y1="376.1" x2="247.5" y2="378.4" stroke="#111" stroke-width="0.6"/>
<line x1="248.1" y1="376.9" x2="249.0" y2="379.1" stroke="#111" stroke-width="0.6"/>
<line x1="249.7" y1="377.7" x2="250.6" y2="379.9" stroke="#111" stroke-width="0.6"/>
<line x1="251.2" y1="378.4" x2="252.1" y2="380.7" stroke="#111" stroke-width="0.6"/>
<line x1="252.8" y1="379.2" x2="253.7" y2="381.5" stroke="#111" stroke-width="0.6"/>
<line x1="254.3" y1="380.0" x2="281.5" y2="365.6" stroke="#111" stroke-width="1.0"/>
<line x1="254.3" y1="381.8" x2="281.5" y2="367.4" stroke="#111" stroke-width="1.0"/>
<line x1="256.0" y1="379.1" x2="257.0" y2="380.4" stroke="#111" stroke-width="0.6"/>
<line x1="257.7" y1="378.2" x2="258.7" y2="379.5" stroke="#111" stroke-width="0.6"/>
<line x1="259.4" y1="377.3" x2="260.4" y2="378.6" stroke="#111" stroke-width="0.6"/>
<line x1="261.1" y1="376.4" x2="262.1" y2="377.7" stroke="#111" stroke-width="0.6"/>
<line x1="262.8" y1="375.5" x2="263.8" y2="376.8" stroke="#111" stroke-width="0.6"/>
<line x1="264.5" y1="374.6" x2="265.5" y2="375.9" stroke="#111" stroke-width="0.6"/>
<line x1="266.2" y1="373.7" x2="267.2" y2="375.0" stroke="#111" stroke-width="0.6"/>
<line x1="267.9" y1="372.8" x2="268.9" y2="374.1" stroke="#111" stroke-width="0.6"/>
<line x1="269.6" y1="371.9" x2="270.6" y2="373.2" stroke="#111" stroke-width="0.6"/>
<line x1="271.3" y1="371.0" x2="272.3" y2="372.3" stroke="#111" stroke-width="0.6"/>
<line x1="273.0" y1="370.1" x2="274.0" y2="371.4" stroke="#111" stroke-width="0.6"/>
<line x1="274.7" y1="369.2" x2="275.7" y2="370.5" stroke="#111" stroke-width="0.6"/>
<line x1="276.4" y1="368.3" x2="277.4" y2="369.6" stroke="#111" stroke-width="0.6"/>
<line x1="278.1" y1="367.4" x2="279.1" y2="368.7" stroke="#111" stroke-width="0.6"/>
<line x1="279.8" y1="366.5" x2="280.8" y2="367.8" stroke="#111" stroke-width="0.6"/>
<ellipse cx="253.2" cy="371.4" rx="2.8" ry="1.8" transform="rotate(0 253.2 371.4)" stroke="#111" stroke-width="1.0" fill="none"/>
<path d="M250.4,371.4 L250.4,373.2 L253.2,374.5 L256.0,373.2 L256.0,371.4" stroke="#111" stroke-width="0.9" fill="none"/>
<path d="M234.3,380.7 L232.5,384.9 L231.9,390.7 L232.2,395.5 L233.4,399.9 L235.7,403.3 L238.7,405.4 L244.8,407.9 L250.1,411.1 L254.1,411.9" stroke="#111" stroke-width="1.1" fill="none"/>
<path d="M234.3,380.7 L238.0,379.5 L242.6,379.4 L246.7,380.9" stroke="#111" stroke-width="1.0" fill="none"/>
<path d="M251.2,384.9 L255.8,383.2 L261.6,382.3 L265.1,382.6" stroke="#111" stroke-width="0.9" fill="none"/>
<ellipse cx="257.0" cy="397.0" rx="11.5" ry="14.7" transform="rotate(-8 257.0 397.0)" stroke="#111" stroke-width="1.1" fill="none"/>
<ellipse cx="258.0" cy="397.5" rx="9.9" ry="13.1" transform="rotate(-8 258.0 397.5)" stroke="#111" stroke-width="0.8" fill="none"/>
<ellipse cx="259.1" cy="397.9" rx="8.0" ry="11.0" transform="rotate(-8 259.1 397.9)" stroke="#111" stroke-width="0.8" fill="none"/>
<path d="M259.9,398.7 Q262.8,401.2 266.5,401.1" stroke="#111" stroke-width="0.8" fill="none"/>
<path d="M259.9,398.7 Q258.1,403.7 259.2,408.7" stroke="#111" stroke-width="0.8" fill="none"/>
<path d="M259.9,398.7 Q255.3,398.8 251.7,401.4" stroke="#111" stroke-width="0.8" fill="none"/>
<path d="M259.9,398.7 Q258.2,393.2 254.4,389.3" stroke="#111" stroke-width="0.8" fill="none"/>
<path d="M259.9,398.7 Q262.9,394.7 263.6,389.1" stroke="#111" stroke-width="0.8" fill="none"/>
<ellipse cx="265.5" cy="396.7" rx="3.2" ry="4.4" transform="rotate(-8 265.5 396.7)" stroke="#111" stroke-width="1.1" fill="#fff"/>
<ellipse cx="266.1" cy="396.8" rx="1.7" ry="2.5" transform="rotate(-8 266.1 396.8)" stroke="#111" stroke-width="1.0" fill="#111"/>
<ellipse cx="245.5" cy="380.3" rx="3.4" ry="1.6" transform="rotate(0 245.5 380.3)" stroke="#111" stroke-width="1.2" fill="#444"/>
<path d="M289.1,344.5 L289.1,323.8 L290.5,322.8 L304.3,329.2 L304.3,350.9 L301.1,350.9 L289.1,344.5" stroke="#111" stroke-width="1.1" fill="none"/>
<line x1="301.1" y1="330.2" x2="301.1" y2="350.9" stroke="#111" stroke-width="0.9"/>
<line x1="290.3" y1="324.5" x2="301.1" y2="330.2" stroke="#111" stroke-width="0.8"/>
<ellipse cx="293.9" cy="327.8" rx="1.2" ry="1.5" transform="rotate(0 293.9 327.8)" stroke="#111" stroke-width="0.9" fill="none"/>
<ellipse cx="293.9" cy="343.7" rx="1.2" ry="1.5" transform="rotate(0 293.9 343.7)" stroke="#111" stroke-width="0.9" fill="none"/>
<ellipse cx="286.4" cy="353.3" rx="6.0" ry="4.0" transform="rotate(-10 286.4 353.3)" stroke="#111" stroke-width="1.4" fill="none"/>
<ellipse cx="286.4" cy="353.3" rx="4.6" ry="2.6" transform="rotate(-10 286.4 353.3)" stroke="#111" stroke-width="0.8" fill="none"/>
<path d="M273.0,356.5 L273.0,360.5 L276.4,362.0 L280.0,360.5 L280.0,356.5" stroke="#111" stroke-width="1.0" fill="none"/>
<ellipse cx="276.5" cy="356.5" rx="3.5" ry="1.6" transform="rotate(0 276.5 356.5)" stroke="#111" stroke-width="1.0" fill="#777"/>
<ellipse cx="308.8" cy="319.0" rx="2.4" ry="3.4" transform="rotate(0 308.8 319.0)" stroke="#111" stroke-width="1.2" fill="none"/>
<ellipse cx="308.8" cy="319.0" rx="1.0" ry="1.6" transform="rotate(0 308.8 319.0)" stroke="#111" stroke-width="0.8" fill="none"/>
<ellipse cx="308.8" cy="334.6" rx="2.4" ry="3.4" transform="rotate(0 308.8 334.6)" stroke="#111" stroke-width="1.2" fill="none"/>
<ellipse cx="308.8" cy="334.6" rx="1.0" ry="1.6" transform="rotate(0 308.8 334.6)" stroke="#111" stroke-width="0.8" fill="none"/>
<ellipse cx="323.7" cy="310.1" rx="2.8" ry="3.2" transform="rotate(0 323.7 310.1)" stroke="#111" stroke-width="1.0" fill="#111"/>
<ellipse cx="323.7" cy="310.1" rx="1.0" ry="1.2" transform="rotate(0 323.7 310.1)" stroke="#888" stroke-width="0.6" fill="none"/>
<ellipse cx="323.7" cy="326.8" rx="2.8" ry="3.2" transform="rotate(0 323.7 326.8)" stroke="#111" stroke-width="1.0" fill="#111"/>
<ellipse cx="323.7" cy="326.8" rx="1.0" ry="1.2" transform="rotate(0 323.7 326.8)" stroke="#888" stroke-width="0.6" fill="none"/>
<line x1="299.2" y1="324.4" x2="306.6" y2="320.3" stroke="#111" stroke-width="0.8"/>
<line x1="311.0" y1="317.6" x2="321.0" y2="311.8" stroke="#111" stroke-width="0.8"/>
<line x1="304.5" y1="337.0" x2="306.6" y2="335.8" stroke="#111" stroke-width="0.8"/>
<line x1="311.0" y1="333.4" x2="321.0" y2="328.3" stroke="#111" stroke-width="0.8"/>
<ellipse cx="193.5" cy="384.9" rx="2.4" ry="2.6" transform="rotate(0 193.5 384.9)" stroke="#111" stroke-width="1.2" fill="none"/>
<line x1="192.0" y1="385.4" x2="195.0" y2="384.4" stroke="#111" stroke-width="0.8"/>
<path d="M195.0,382.6 L202.5,378.6 L204.0,380.9 L196.5,385.1" stroke="#111" stroke-width="1.0" fill="none"/>
<line x1="204.0" y1="379.0" x2="230.0" y2="365.0" stroke="#111" stroke-width="0.8"/>
<ellipse cx="206.9" cy="394.3" rx="2.4" ry="2.6" transform="rotate(0 206.9 394.3)" stroke="#111" stroke-width="1.2" fill="none"/>
<line x1="205.4" y1="394.8" x2="208.4" y2="393.8" stroke="#111" stroke-width="0.8"/>
<path d="M208.4,392.0 L215.9,388.0 L217.4,390.3 L209.9,394.5" stroke="#111" stroke-width="1.0" fill="none"/>
<line x1="217.5" y1="388.6" x2="240.0" y2="376.5" stroke="#111" stroke-width="0.8"/>
<path d="M347.0,341.8 L373.9,327.0 L399.0,340.0" stroke="#111" stroke-width="1.1" fill="none"/>
<path d="M347.3,341.0 L346.4,342.0 L347.0,342.8 L370.9,356.2 L399.0,341.0 L399.6,340.2 L398.7,339.2" stroke="#111" stroke-width="1.1" fill="none"/>
<path d="M347.2,344.4 L370.9,357.8 L398.8,342.6" stroke="#111" stroke-width="1.0" fill="none"/>
<line x1="346.7" y1="342.6" x2="347.2" y2="344.4" stroke="#111" stroke-width="0.9"/>
<line x1="399.3" y1="340.8" x2="398.8" y2="342.6" stroke="#111" stroke-width="0.9"/>
<line x1="370.9" y1="356.2" x2="370.9" y2="357.8" stroke="#111" stroke-width="0.9"/>
<ellipse cx="352.4" cy="341.6" rx="2.7" ry="1.8" transform="rotate(0 352.4 341.6)" stroke="#111" stroke-width="0.9" fill="none"/>
<ellipse cx="352.4" cy="342.1" rx="1.5" ry="0.9" transform="rotate(0 352.4 342.1)" stroke="#111" stroke-width="0.7" fill="none"/>
<ellipse cx="392.7" cy="340.0" rx="2.7" ry="1.8" transform="rotate(0 392.7 340.0)" stroke="#111" stroke-width="0.9" fill="none"/>
<ellipse cx="392.7" cy="340.5" rx="1.5" ry="0.9" transform="rotate(0 392.7 340.5)" stroke="#111" stroke-width="0.7" fill="none"/>
<ellipse cx="371.2" cy="329.6" rx="2.7" ry="1.8" transform="rotate(0 371.2 329.6)" stroke="#111" stroke-width="0.9" fill="none"/>
<ellipse cx="371.2" cy="330.1" rx="1.5" ry="0.9" transform="rotate(0 371.2 330.1)" stroke="#111" stroke-width="0.7" fill="none"/>
<ellipse cx="371.0" cy="352.5" rx="2.7" ry="1.8" transform="rotate(0 371.0 352.5)" stroke="#111" stroke-width="0.9" fill="none"/>
<ellipse cx="371.0" cy="353.0" rx="1.5" ry="0.9" transform="rotate(0 371.0 353.0)" stroke="#111" stroke-width="0.7" fill="none"/>
<path d="M346.1,389.7 L374.3,374.2 L398.2,386.7" stroke="#111" stroke-width="1.1" fill="none"/>
<path d="M346.4,388.9 L345.5,389.9 L346.1,390.7 L370.1,404.7 L398.2,387.7 L398.8,386.9 L397.9,385.9" stroke="#111" stroke-width="1.1" fill="none"/>
<path d="M346.3,392.3 L370.1,406.3 L398.0,389.3" stroke="#111" stroke-width="1.0" fill="none"/>
<line x1="345.8" y1="390.5" x2="346.3" y2="392.3" stroke="#111" stroke-width="0.9"/>
<line x1="398.5" y1="387.5" x2="398.0" y2="389.3" stroke="#111" stroke-width="0.9"/>
<line x1="370.1" y1="404.7" x2="370.1" y2="406.3" stroke="#111" stroke-width="0.9"/>
<ellipse cx="352.1" cy="388.5" rx="2.7" ry="1.8" transform="rotate(0 352.1 388.5)" stroke="#111" stroke-width="0.9" fill="none"/>
<ellipse cx="352.1" cy="389.0" rx="1.5" ry="0.9" transform="rotate(0 352.1 389.0)" stroke="#111" stroke-width="0.7" fill="none"/>
<ellipse cx="393.4" cy="387.3" rx="2.7" ry="1.8" transform="rotate(0 393.4 387.3)" stroke="#111" stroke-width="0.9" fill="none"/>
<ellipse cx="393.4" cy="387.8" rx="1.5" ry="0.9" transform="rotate(0 393.4 387.8)" stroke="#111" stroke-width="0.7" fill="none"/>
<ellipse cx="374.3" cy="376.4" rx="2.7" ry="1.8" transform="rotate(0 374.3 376.4)" stroke="#111" stroke-width="0.9" fill="none"/>
<ellipse cx="374.3" cy="376.9" rx="1.5" ry="0.9" transform="rotate(0 374.3 376.9)" stroke="#111" stroke-width="0.7" fill="none"/>
<ellipse cx="371.3" cy="400.4" rx="2.7" ry="1.8" transform="rotate(0 371.3 400.4)" stroke="#111" stroke-width="0.9" fill="none"/>
<ellipse cx="371.3" cy="400.9" rx="1.5" ry="0.9" transform="rotate(0 371.3 400.9)" stroke="#111" stroke-width="0.7" fill="none"/>
<path d="M347.0,392.0 L344.0,398.5 L346.0,402.0 L358.0,407.5 L361.5,405.0" stroke="#111" stroke-width="1.0" fill="none"/>
<path d="M344.5,401.0 L342.0,404.5 L345.0,409.5 L356.0,412.5 L359.5,409.5" stroke="#111" stroke-width="1.0" fill="none"/>
<ellipse cx="346.5" cy="404.5" rx="2.2" ry="1.8" transform="rotate(0 346.5 404.5)" stroke="#111" stroke-width="1.2" fill="#555"/>
<ellipse cx="340.8" cy="409.9" rx="5.8" ry="3.4" transform="rotate(-10 340.8 409.9)" stroke="#111" stroke-width="1.4" fill="none"/>
<ellipse cx="340.8" cy="409.9" rx="4.2" ry="2.0" transform="rotate(-10 340.8 409.9)" stroke="#111" stroke-width="0.8" fill="none"/>
<path d="M361.8,398.4 L360.1,402.4 L359.5,407.9 L359.7,412.6 L360.9,416.8 L363.1,420.1 L366.0,422.0 L371.8,424.4 L376.9,427.5 L380.8,428.3" stroke="#111" stroke-width="1.1" fill="none"/>
<path d="M361.8,398.4 L365.4,397.3 L369.8,397.2 L373.6,398.6" stroke="#111" stroke-width="1.0" fill="none"/>
<path d="M378.0,402.4 L382.4,400.8 L387.9,399.9 L391.2,400.2" stroke="#111" stroke-width="0.9" fill="none"/>
<ellipse cx="383.5" cy="414.0" rx="11.0" ry="14.1" transform="rotate(-8 383.5 414.0)" stroke="#111" stroke-width="1.1" fill="none"/>
<ellipse cx="384.5" cy="414.4" rx="9.5" ry="12.5" transform="rotate(-8 384.5 414.4)" stroke="#111" stroke-width="0.8" fill="none"/>
<ellipse cx="385.5" cy="414.9" rx="7.7" ry="10.6" transform="rotate(-8 385.5 414.9)" stroke="#111" stroke-width="0.8" fill="none"/>
<path d="M386.2,415.6 Q389.0,418.1 392.6,417.9" stroke="#111" stroke-width="0.8" fill="none"/>
<path d="M386.2,415.6 Q384.6,420.5 385.6,425.2" stroke="#111" stroke-width="0.8" fill="none"/>
<path d="M386.2,415.6 Q381.9,415.7 378.4,418.2" stroke="#111" stroke-width="0.8" fill="none"/>
<path d="M386.2,415.6 Q384.7,410.3 381.0,406.6" stroke="#111" stroke-width="0.8" fill="none"/>
<path d="M386.2,415.6 Q389.1,411.8 389.8,406.4" stroke="#111" stroke-width="0.8" fill="none"/>
<ellipse cx="391.6" cy="413.7" rx="3.1" ry="4.2" transform="rotate(-8 391.6 413.7)" stroke="#111" stroke-width="1.1" fill="#fff"/>
<ellipse cx="392.2" cy="413.8" rx="1.7" ry="2.4" transform="rotate(-8 392.2 413.8)" stroke="#111" stroke-width="1.0" fill="#111"/>
<ellipse cx="372.5" cy="398.1" rx="3.3" ry="1.5" transform="rotate(0 372.5 398.1)" stroke="#111" stroke-width="1.2" fill="#444"/>
<path d="M217.1,357.3 L217.1,372.8 L218.3,374.6 L229.0,369.3 L229.0,359.7" stroke="#111" stroke-width="1.0" fill="none"/>
<line x1="218.3" y1="358.5" x2="229.0" y2="360.3" stroke="#111" stroke-width="0.9"/>
<line x1="222.5" y1="356.7" x2="231.4" y2="338.2" stroke="#111" stroke-width="0.9"/>
<line x1="229.6" y1="365.0" x2="240.0" y2="359.6" stroke="#111" stroke-width="1.0"/>
<line x1="281.5" y1="362.8" x2="270.5" y2="357.0" stroke="#111" stroke-width="1.0"/>
<g class="b">
<text x="54.2" y="179.3" textLength="13.9" lengthAdjust="spacing">13</text>
<text x="93.1" y="166.9" textLength="13.9" lengthAdjust="spacing">13</text>
<text x="132.4" y="179.9" textLength="13.9" lengthAdjust="spacing">13</text>
<text x="172.4" y="156.2" text-anchor="middle">1</text>
<text x="239.4" y="159.8" text-anchor="middle">5</text>
<text x="370.4" y="142.7" text-anchor="middle">7</text>
<text x="341.8" y="161.2" text-anchor="middle">4</text>
<text x="376.9" y="179.2" textLength="13.9" lengthAdjust="spacing">12</text>
<text x="400.5" y="203.4" textLength="13.9" lengthAdjust="spacing">14</text>
<text x="427.0" y="223.3" textLength="13.9" lengthAdjust="spacing">14</text>
<text x="441.9" y="255.8" textLength="13.9" lengthAdjust="spacing">13</text>
<text x="455.7" y="318.8" text-anchor="middle">6</text>
<text x="59.2" y="376.5" text-anchor="middle">6</text>
<text x="53.3" y="464.5" textLength="13.9" lengthAdjust="spacing">15</text>
<text x="153.2" y="467.7" text-anchor="middle">2</text>
<text x="184.3" y="448.1" text-anchor="middle">9</text>
<text x="223.1" y="448.1" text-anchor="middle">9</text>
<text x="275.3" y="421.6" text-anchor="middle">8</text>
<text x="299.7" y="404.9" textLength="13.9" lengthAdjust="spacing">11</text>
<text x="322.2" y="376.0" textLength="13.9" lengthAdjust="spacing">10</text>
<text x="287.9" y="455.7" text-anchor="middle">3</text>
<text x="314.3" y="474.1" textLength="13.9" lengthAdjust="spacing">15</text>
</g>
</g>
</svg>
</body></html>
